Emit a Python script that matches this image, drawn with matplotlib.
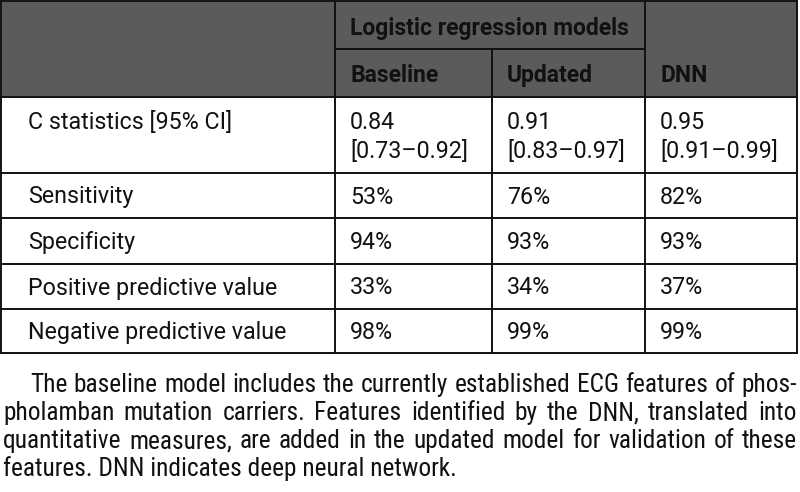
import matplotlib
matplotlib.use("Agg")
import os
import matplotlib.pyplot as plt
from matplotlib.patches import Rectangle
from matplotlib import font_manager as fm

# ---------------- data ----------------
row_labels = ["C statistics [95% CI]", "Sensitivity", "Specificity",
              "Positive predictive value", "Negative predictive value"]
group_header = "Logistic regression models"
col_headers = ["Baseline", "Updated", "DNN"]
baseline = ["0.84\n[0.73\u20130.92]", "53%", "94%", "33%", "98%"]
updated = ["0.91\n[0.83\u20130.97]", "76%", "93%", "34%", "99%"]
dnn = ["0.95\n[0.91\u20130.99]", "82%", "93%", "37%", "99%"]
caption_lines = [
    "The baseline model includes the currently established ECG features of phos-",
    "pholamban mutation carriers. Features identified by the DNN, translated into",
    "quantitative measures, are added in the updated model for validation of these",
    "features. DNN indicates deep neural network.",
]

# ---------------- fonts ----------------
names = {f.name for f in fm.fontManager.ttflist}
table_font = "Roboto" if "Roboto" in names else "Liberation Sans"

cap_fp = None
pref = []
for f in fm.fontManager.ttflist:
    base = os.path.basename(f.fname).lower()
    if f.style != "normal":
        continue
    if "bold" in base or "italic" in base or "oblique" in base or "light" in base:
        continue
    if "narrow" in base or "condensed" in base or "semicondensed" in base:
        score = 0
        if "liberationsansnarrow" in base:
            score = 3
        elif "roboto" in base:
            score = 2
        elif "dejavusanscondensed" in base:
            score = 1
        pref.append((score, f.fname))
if pref:
    pref.sort(reverse=True)
    cap_fp = fm.FontProperties(fname=pref[0][1])
else:
    cap_fp = fm.FontProperties(family="Liberation Sans")

W, H = 800, 492
fig = plt.figure(figsize=(W / 100, H / 100), dpi=100)
ax = fig.add_axes([0, 0, 1, 1])
ax.set_xlim(0, W)
ax.set_ylim(H, 0)
ax.axis("off")
renderer = fig.canvas.get_renderer()


def text_width(s, **kw):
    t = ax.text(0, 0, s, **kw)
    w = t.get_window_extent(renderer=renderer).width
    t.remove()
    return w


fs0 = 10
w0 = text_width("Negative predictive value", family=table_font, fontsize=fs0)
fs = fs0 * 258.0 / w0
wb = text_width(group_header, family=table_font, fontsize=fs0, fontweight="bold")
fs_b = min(fs, fs0 * 279.0 / wb)

# ---------------- geometry ----------------
col_x = [1, 335, 492, 645, 797]
row_y = [1, 97, 173, 218, 264, 309, 353]
mid_y = 49
header_gray = "#5b5b5b"
line_c = "#111111"
lw = 1.4
txt_c = "#111111"

ax.add_patch(Rectangle((col_x[0], row_y[0]), col_x[-1] - col_x[0], row_y[1] - row_y[0],
                       facecolor=header_gray, edgecolor="none", zorder=0))

for y in row_y:
    ax.plot([col_x[0], col_x[-1]], [y, y], color=line_c, lw=lw, solid_capstyle="projecting")
ax.plot([col_x[1], col_x[3]], [mid_y, mid_y], color=line_c, lw=lw)
for x in [col_x[0], col_x[1], col_x[3], col_x[4]]:
    ax.plot([x, x], [row_y[0], row_y[-1]], color=line_c, lw=lw, solid_capstyle="projecting")
ax.plot([col_x[2], col_x[2]], [mid_y, row_y[-1]], color=line_c, lw=lw)

pad = 15
ax.text(col_x[1] + pad, 35, group_header, family=table_font, fontsize=fs_b,
        fontweight="bold", color=txt_c, va="baseline", ha="left")
for i, h in enumerate(col_headers):
    ax.text(col_x[i + 1] + pad, 82, h, family=table_font, fontsize=fs_b,
            fontweight="bold", color=txt_c, va="baseline", ha="left")

cap_px = 16
line_gap = 28.5
columns = [baseline, updated, dnn]
for r, lab in enumerate(row_labels):
    y0, y1 = row_y[r + 1], row_y[r + 2]
    if r == 0:
        base = y0 + 32
    else:
        base = (y0 + y1) / 2 + cap_px / 2
    ax.text(28, base, lab, family=table_font, fontsize=fs, color=txt_c,
            va="baseline", ha="left")
    for c, col in enumerate(columns):
        for k, part in enumerate(col[r].split("\n")):
            ax.text(col_x[c + 1] + pad, base + k * line_gap, part, family=table_font,
                    fontsize=fs, color=txt_c, va="baseline", ha="left")

# caption (justified)
cfs0 = 10
wl = text_width(caption_lines[-1], fontproperties=cap_fp, fontsize=cfs0)
cfs = cfs0 * (453 - 3) / wl
cap_base = [392, 420, 448, 476]
left_x = [30, 3, 3, 3]
right_x = 797
for i, line in enumerate(caption_lines):
    y = cap_base[i]
    if i == len(caption_lines) - 1:
        ax.text(left_x[i], y, line, fontproperties=cap_fp, fontsize=cfs, color=txt_c,
                va="baseline", ha="left")
        continue
    words = line.split(" ")
    widths = [text_width(w, fontproperties=cap_fp, fontsize=cfs) for w in words]
    gap = (right_x - left_x[i] - sum(widths)) / (len(words) - 1)
    x = left_x[i]
    for w, ww in zip(words, widths):
        ax.text(x, y, w, fontproperties=cap_fp, fontsize=cfs, color=txt_c,
                va="baseline", ha="left")
        x += ww + gap

fig.savefig("out.png", dpi=100)
